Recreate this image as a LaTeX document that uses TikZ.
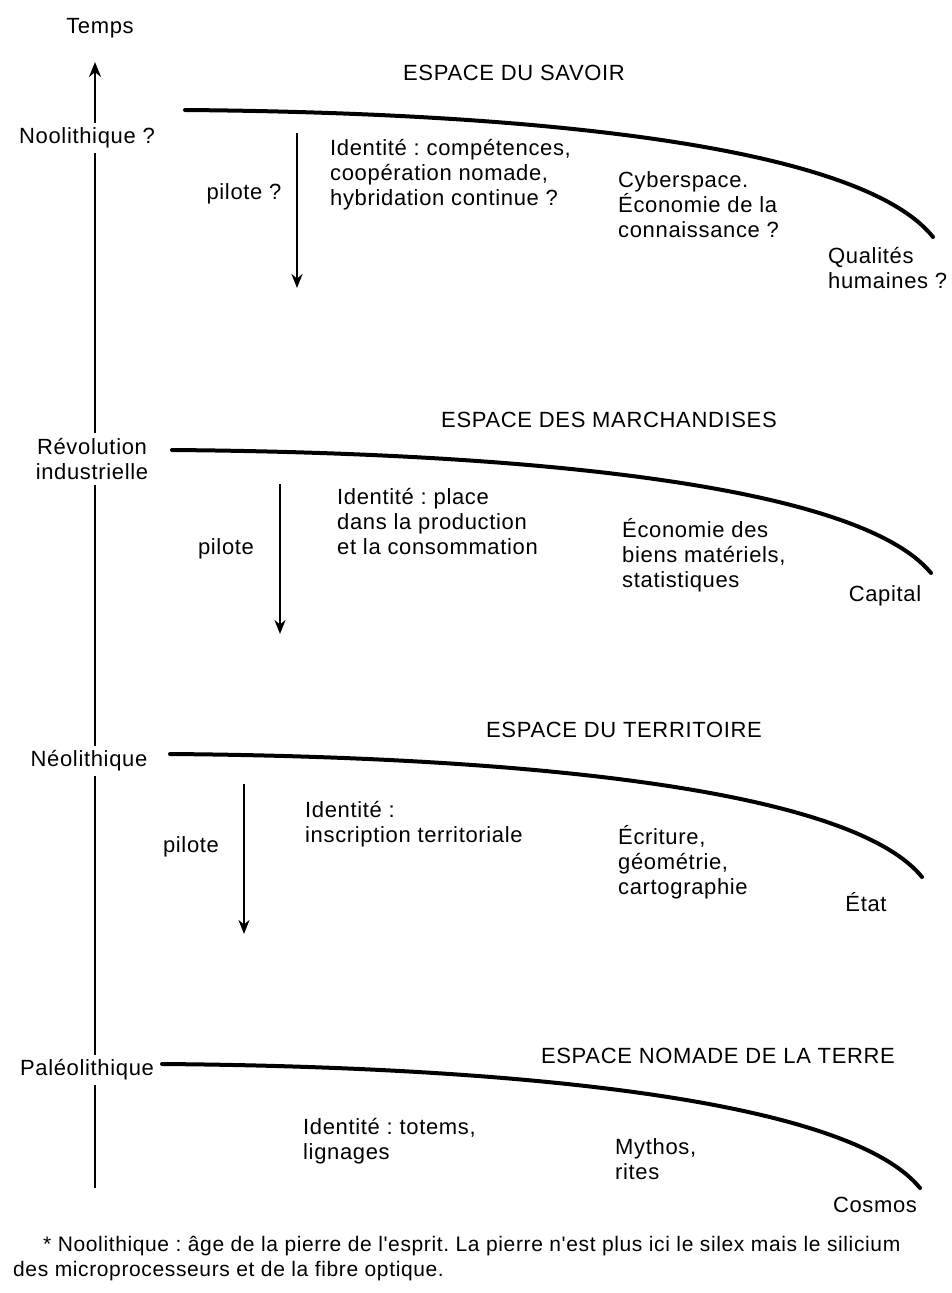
\documentclass[tikz,border=0pt]{standalone}
\usepackage{fontspec}
\setmainfont{Liberation Sans}
\newfontfamily\dfont[LetterSpace=3]{Liberation Sans}
\newfontfamily\nfont[LetterSpace=3]{Liberation Sans}
\usetikzlibrary{arrows.meta}
\frenchspacing
\begin{document}
\begin{tikzpicture}[x=1pt,y=-1pt,
  lbl/.style={font=\dfont\fontsize{22}{25}\selectfont, inner sep=0pt, outer sep=5pt},
  txt/.style={font=\dfont\fontsize{22}{25}\selectfont, inner sep=0pt, align=left, anchor=north west},
  title/.style={font=\dfont\fontsize{22}{25}\selectfont, inner sep=0pt},
  curve/.style={line width=4pt, line cap=round},
  axisline/.style={line width=2.8pt},
  pil/.style={line width=2.4pt, -{Stealth[length=14pt,width=11pt]}},
]
\useasboundingbox (0,0) rectangle (952,1293);

% time axis
\coordinate (tip) at (95,62);
\coordinate (bot) at (95,1188);
\node[lbl] (temps) at (100,28) {Temps};
\node[lbl] (noo) at (87,138) {Noolithique ?};
\node[lbl, align=center] (rev) at (92,459) {Révolution\\industrielle};
\node[lbl] (neo) at (89,761) {Néolithique};
\node[lbl] (pal) at (87,1070) {Paléolithique};
\draw[axisline, -{Stealth[length=15pt,width=12pt]}] (noo.north -| tip) -- (tip);
\draw[axisline] (noo.south -| tip) -- (rev.north -| tip);
\draw[axisline] (rev.south -| tip) -- (neo.north -| tip);
\draw[axisline] (neo.south -| tip) -- (pal.north -| tip);
\draw[axisline] (pal.south -| tip) -- (bot);

% band 1 : savoir
\node[title] (t1) at (514,73) {ESPACE DU SAVOIR};
\coordinate (s1) at (185,110);
\coordinate (e1) at (933,237);
\draw[curve] (s1) .. controls (551,113) and (862,148) .. (e1);
\coordinate (p1a) at (297,133);
\coordinate (p1b) at (297,288);
\draw[pil] (p1a) -- (p1b);
\node[lbl] (pl1) at (244,194) {pilote ?};
\node[txt] (id1) at (330,139) {Identité : compétences,\\coopération nomade,\\hybridation continue ?};
\node[txt] (cy1) at (618,171) {Cyberspace.\\Économie de la\\connaissance ?};
\node[txt] (q1) at (828,247) {Qualités\\humaines ?};

% band 2 : marchandises
\node[title] (t2) at (609,420) {ESPACE DES MARCHANDISES};
\coordinate (s2) at (172,450);
\coordinate (e2) at (931,573);
\draw[curve] (s2) .. controls (543,453) and (860,487) .. (e2);
\coordinate (p2a) at (280,484);
\coordinate (p2b) at (280,634);
\draw[pil] (p2a) -- (p2b);
\node[lbl] (pl2) at (226,549) {pilote};
\node[txt] (id2) at (337,488) {Identité : place\\dans la production\\et la consommation};
\node[txt] (ec2) at (622,518) {Économie des\\biens matériels,\\statistiques};
\node[lbl] (cap2) at (885,596) {Capital};

% band 3 : territoire
\node[title] (t3) at (624,730) {ESPACE DU TERRITOIRE};
\coordinate (s3) at (170,754);
\coordinate (e3) at (922,877);
\draw[curve] (s3) .. controls (538,757) and (852,791) .. (e3);
\coordinate (p3a) at (244,784);
\coordinate (p3b) at (244,934);
\draw[pil] (p3a) -- (p3b);
\node[lbl] (pl3) at (191,847) {pilote};
\node[txt] (id3) at (305,801) {Identité :\\inscription territoriale};
\node[txt] (ec3) at (618,825) {Écriture,\\géométrie,\\cartographie};
\node[lbl] (et3) at (866,902) {État};

% band 4 : nomade
\node[title] (t4) at (718,1056) {ESPACE NOMADE DE LA TERRE};
\coordinate (s4) at (162,1064);
\coordinate (e4) at (920,1188);
\draw[curve] (s4) .. controls (533,1067) and (850,1102) .. (e4);
\node[txt] (id4) at (303,1118) {Identité : totems,\\lignages};
\node[txt] (my4) at (615,1138) {Mythos,\\rites};
\node[lbl] (cos4) at (875,1205) {Cosmos};

% footnote
\node[txt, font=\nfont\fontsize{21}{25}\selectfont] (fn) at (13,1236)
  {\hspace*{30pt}* Noolithique : âge de la pierre de l'esprit. La pierre n'est plus ici le silex mais le silicium\\des microprocesseurs et de la fibre optique.};
\end{tikzpicture}
\end{document}
